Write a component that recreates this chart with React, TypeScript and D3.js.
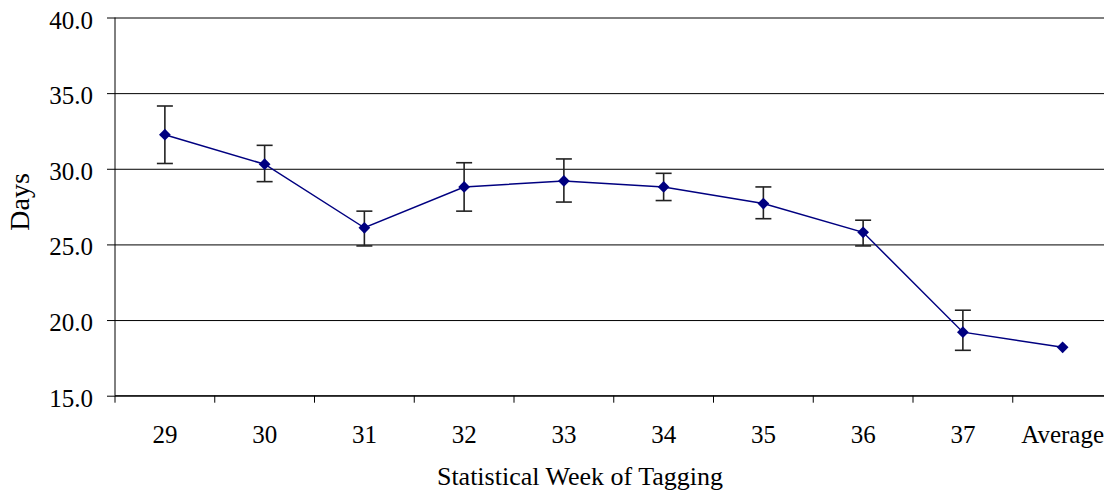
import React, { useRef, useEffect } from 'react'
import * as d3 from 'd3'

// Durée moyenne (jours) par semaine statistique de marquage, avec barres d'erreur.
const weeks = ['29', '30', '31', '32', '33', '34', '35', '36', '37', 'Average']
const days = [32.25, 30.3, 26.1, 28.8, 29.2, 28.8, 27.7, 25.8, 19.2, 18.2]
const errLow = [30.35, 29.15, 24.9, 27.2, 27.8, 27.9, 26.7, 24.9, 18.0, null]
const errHigh = [34.15, 31.55, 27.2, 30.4, 30.65, 29.7, 28.8, 26.6, 20.65, null]
const yTicks = [15, 20, 25, 30, 35, 40]

export default function App() {
  const svgRef = useRef<SVGSVGElement>(null)

  useEffect(() => {
    const svg = d3.select(svgRef.current)
    svg.selectAll('*').remove()

    const margin = { top: 17.5, left: 115 }
    const plotW = 997.5
    const plotH = 378.2
    const font = 'Liberation Serif, Times New Roman, DejaVu Serif, serif'

    const x = d3.scaleBand().domain(weeks).range([0, plotW])
    const y = d3.scaleLinear().domain([15, 40]).range([plotH, 0])

    const g = svg.append('g').attr('transform', `translate(${margin.left}, ${margin.top})`)

    // Grille horizontale
    g.append('g')
      .call(d3.axisLeft(y).tickValues(yTicks).tickSize(-plotW).tickFormat(() => ''))
      .call((a) => a.select('.domain').remove())
      .call((a) => a.selectAll('.tick line').attr('stroke', '#000').attr('stroke-width', 1))

    // Axe Y
    g.append('g')
      .call(d3.axisLeft(y).tickValues(yTicks).tickSize(8).tickPadding(14).tickFormat((d) => d3.format('.1f')(d as number)))
      .attr('font-family', font)
      .attr('font-size', 25)
      .call((a) => a.select('.domain').attr('stroke', '#000').attr('d', `M0,0V${plotH}`))
      .call((a) => a.selectAll('.tick line').attr('stroke', '#000'))
      .call((a) => a.selectAll('.tick text').attr('fill', '#000').attr('dy', '0.42em'))

    // Axe X : graduations entre catégories
    const bounds = weeks.map((_, i) => i * x.step()).concat([plotW])
    g.append('line')
      .attr('x1', 0).attr('x2', plotW)
      .attr('y1', plotH).attr('y2', plotH)
      .attr('stroke', '#000')
    bounds.forEach((bx) => {
      g.append('line')
        .attr('x1', bx).attr('x2', bx)
        .attr('y1', plotH).attr('y2', plotH + 7)
        .attr('stroke', '#000')
    })
    weeks.forEach((w) => {
      g.append('text')
        .attr('x', x(w)! + x.bandwidth() / 2)
        .attr('y', plotH + 47.5)
        .attr('text-anchor', 'middle')
        .attr('fill', '#000')
        .attr('font-family', font)
        .attr('font-size', 25)
        .text(w)
    })

    const cx = (i: number) => x(weeks[i])! + x.bandwidth() / 2

    // Barres d'erreur
    days.forEach((_, i) => {
      const lo = errLow[i]
      const hi = errHigh[i]
      if (lo == null || hi == null) return
      const c = cx(i)
      g.append('line').attr('x1', c).attr('x2', c).attr('y1', y(hi)).attr('y2', y(lo))
        .attr('stroke', '#222').attr('stroke-width', 1.6)
      ;[lo, hi].forEach((v) => {
        g.append('line').attr('x1', c - 8).attr('x2', c + 8).attr('y1', y(v)).attr('y2', y(v))
          .attr('stroke', '#222').attr('stroke-width', 1.6)
      })
    })

    // Ligne
    const line = d3.line<number>().x((_, i) => cx(i)).y((d) => y(d))
    g.append('path')
      .datum(days)
      .attr('fill', 'none')
      .attr('stroke', '#000080')
      .attr('stroke-width', 1.5)
      .attr('d', line)

    // Marqueurs en losange
    const diamond = d3.symbol().type(d3.symbolDiamond2).size(88)
    days.forEach((d, i) => {
      g.append('path')
        .attr('d', diamond()!)
        .attr('transform', `translate(${cx(i)}, ${y(d)})`)
        .attr('fill', '#000080')
    })

    // Titres d'axes
    svg.append('text')
      .attr('x', 580)
      .attr('y', 485)
      .attr('text-anchor', 'middle')
      .attr('fill', '#000')
      .attr('font-family', font)
      .attr('font-size', 26)
      .text('Statistical Week of Tagging')

    svg.append('text')
      .attr('transform', `translate(29, 202) rotate(-90)`)
      .attr('text-anchor', 'middle')
      .attr('fill', '#000')
      .attr('font-family', font)
      .attr('font-size', 28)
      .text('Days')
  }, [])

  return (
    <svg
      ref={svgRef}
      width={1104}
      height={497}
      style={{ position: 'absolute', top: 0, left: 0, display: 'block', background: '#fff' }}
    />
  )
}
